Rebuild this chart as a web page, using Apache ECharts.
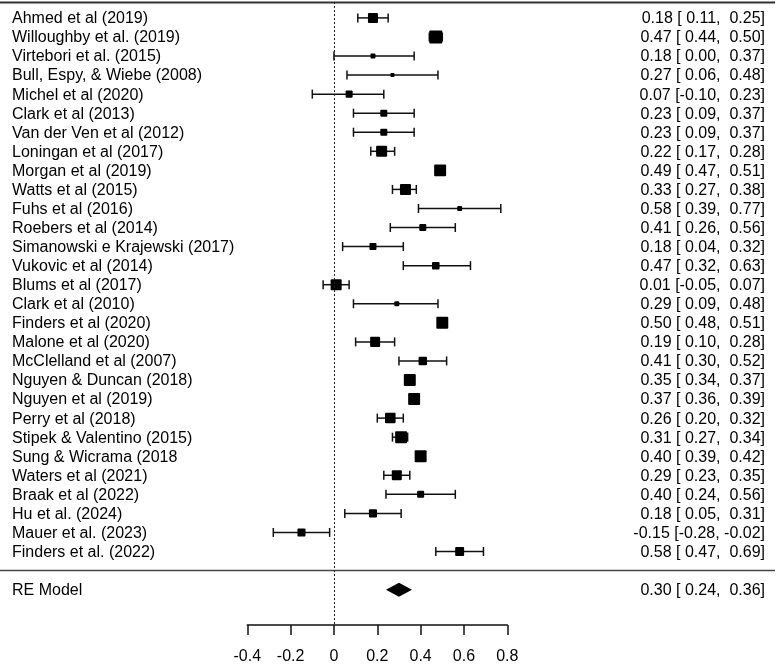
<!DOCTYPE html>
<html><head><meta charset="utf-8">
<script src="https://cdn.jsdelivr.net/npm/echarts@6/dist/echarts.min.js"></script>
<style>html,body{margin:0;padding:0;background:#fff}#c{width:777px;height:665px}</style>
</head><body><div id="c"></div>
<script>
const studies = [
  'Ahmed et al (2019)','Willoughby et al. (2019)','Virtebori et al. (2015)','Bull, Espy, & Wiebe (2008)',
  'Michel et al (2020)','Clark et al (2013)','Van der Ven et al (2012)','Loningan et al (2017)',
  'Morgan et al (2019)','Watts et al (2015)','Fuhs et al (2016)','Roebers et al (2014)',
  'Simanowski e Krajewski (2017)','Vukovic et al (2014)','Blums et al (2017)','Clark et al (2010)',
  'Finders et al (2020)','Malone et al (2020)','McClelland et al (2007)','Nguyen & Duncan (2018)',
  'Nguyen et al (2019)','Perry et al (2018)','Stipek & Valentino (2015)','Sung & Wicrama (2018',
  'Waters et al (2021)','Braak et al (2022)','Hu et al. (2024)','Mauer et al. (2023)','Finders et al. (2022)'
];
const estimates = [0.18,0.47,0.18,0.27,0.07,0.23,0.23,0.22,0.49,0.33,0.58,0.41,0.18,0.47,0.01,0.29,0.50,0.19,0.41,0.35,0.37,0.26,0.31,0.40,0.29,0.40,0.18,-0.15,0.58];
const lower =     [0.11,0.44,0.00,0.06,-0.10,0.09,0.09,0.17,0.47,0.27,0.39,0.26,0.04,0.32,-0.05,0.09,0.48,0.10,0.30,0.34,0.36,0.20,0.27,0.39,0.23,0.24,0.05,-0.28,0.47];
const upper =     [0.25,0.50,0.37,0.48,0.23,0.37,0.37,0.28,0.51,0.38,0.77,0.56,0.32,0.63,0.07,0.48,0.51,0.28,0.52,0.37,0.39,0.32,0.34,0.42,0.35,0.56,0.31,-0.02,0.69];
// relative study weights (largest = 1)
const weights =   [0.77,1.00,0.38,0.31,0.54,0.54,0.54,0.85,0.92,0.85,0.38,0.54,0.54,0.58,0.85,0.38,0.92,0.77,0.65,0.92,0.92,0.81,0.92,0.92,0.77,0.54,0.62,0.62,0.69];
const modelLabel = 'RE Model';
const modelEstimate = [0.30];
const modelLower = [0.24];
const modelUpper = [0.36];
const xTicks = [-0.4,-0.2,0,0.2,0.4,0.6,0.8];

const FONT = '"Liberation Sans", Arial, sans-serif';
const MAX_SQ = 13;
const pad = v => { const s = v.toFixed(2); return s.length < 5 ? ' ' + s : s; };
const ciText = (e, l, u) => e.toFixed(2) + ' [' + pad(l) + ', ' + pad(u) + ']';

const studyData = studies.map((s, i) => [estimates[i], i, lower[i], upper[i], weights[i]]);
const sepRow = studies.length;        // separator line row
const modelRow = studies.length + 1;  // RE model row

const chart = echarts.init(document.getElementById('c'), null, {renderer: 'canvas'});

function txt(text, x, y, align) {
  return {type: 'text', silent: true, style: {text, x, y: y + 1, align, verticalAlign: 'middle',
    fontSize: 16, fontFamily: FONT, fill: '#000'}};
}

chart.setOption({
  animation: false,
  grid: {left: 247.3, right: 269.7, top: 2, bottom: 36, containLabel: false},
  xAxis: {
    type: 'value', min: xTicks[0], max: xTicks[xTicks.length - 1], interval: 0.2,
    splitLine: {show: false},
    axisLine: {show: true, onZero: false, lineStyle: {color: '#111', width: 1.5}},
    axisTick: {show: true, inside: false, length: 10, lineStyle: {color: '#111', width: 1.5}},
    axisLabel: {margin: 24, fontSize: 16, fontFamily: FONT, color: '#000',
      formatter: v => String(Math.round(v * 10) / 10)}
  },
  yAxis: {type: 'value', inverse: true, min: -0.834, max: 31.856, show: false},
  series: [
    {
      type: 'custom', name: 'frame', clip: false, silent: true,
      data: [[0, 0]],
      encode: {x: 0, y: 1},
      renderItem: (params, api) => {
        const yTop = api.coord([0, -0.834])[1];
        const ySep = api.coord([0, sepRow])[1];
        const w = api.getWidth();
        return {type: 'group', children: [
          {type: 'line', shape: {x1: 0, y1: yTop + 0.5, x2: w - 2, y2: yTop + 0.5}, style: {stroke: '#333', lineWidth: 2}},
          {type: 'line', shape: {x1: 0, y1: ySep, x2: w - 2, y2: ySep}, style: {stroke: '#444', lineWidth: 1.5}}
        ]};
      },
      markLine: {
        symbol: 'none', silent: true, label: {show: false},
        lineStyle: {type: [2, 2], color: '#222', width: 1},
        data: [{xAxis: 0}]
      }
    },
    {
      type: 'custom', name: 'studies', clip: false, silent: true,
      data: studyData,
      encode: {x: [0, 2, 3], y: 1},
      renderItem: (params, api) => {
        const row = api.value(1);
        const pe = api.coord([api.value(0), row]);
        const pl = api.coord([api.value(2), row]);
        const pu = api.coord([api.value(3), row]);
        const y = pe[1];
        const sz = MAX_SQ * api.value(4);
        const cap = 4.5;
        const i = params.dataIndex;
        return {type: 'group', children: [
          {type: 'line', shape: {x1: pl[0], y1: y, x2: pu[0], y2: y}, style: {stroke: '#111', lineWidth: 1.5}},
          {type: 'line', shape: {x1: pl[0], y1: y - cap, x2: pl[0], y2: y + cap}, style: {stroke: '#111', lineWidth: 1.5}},
          {type: 'line', shape: {x1: pu[0], y1: y - cap, x2: pu[0], y2: y + cap}, style: {stroke: '#111', lineWidth: 1.5}},
          {type: 'rect', shape: {x: pe[0] - sz / 2, y: y - sz / 2, width: sz, height: sz, r: 1}, style: {fill: '#000'}},
          txt(studies[i], 12, y, 'left'),
          txt(ciText(estimates[i], lower[i], upper[i]), 765, y, 'right')
        ]};
      }
    },
    {
      type: 'custom', name: 'model', clip: false, silent: true,
      data: [[modelEstimate[0], modelRow, modelLower[0], modelUpper[0]]],
      encode: {x: [0, 2, 3], y: 1},
      renderItem: (params, api) => {
        const row = api.value(1);
        const pe = api.coord([api.value(0), row]);
        const pl = api.coord([api.value(2), row]);
        const pu = api.coord([api.value(3), row]);
        const y = pe[1], h = 7;
        return {type: 'group', children: [
          {type: 'polygon', shape: {points: [[pl[0], y], [pe[0], y - h], [pu[0], y], [pe[0], y + h]]}, style: {fill: '#000'}},
          txt(modelLabel, 12, y, 'left'),
          txt(ciText(modelEstimate[0], modelLower[0], modelUpper[0]), 765, y, 'right')
        ]};
      }
    }
  ]
});
</script></body></html>
